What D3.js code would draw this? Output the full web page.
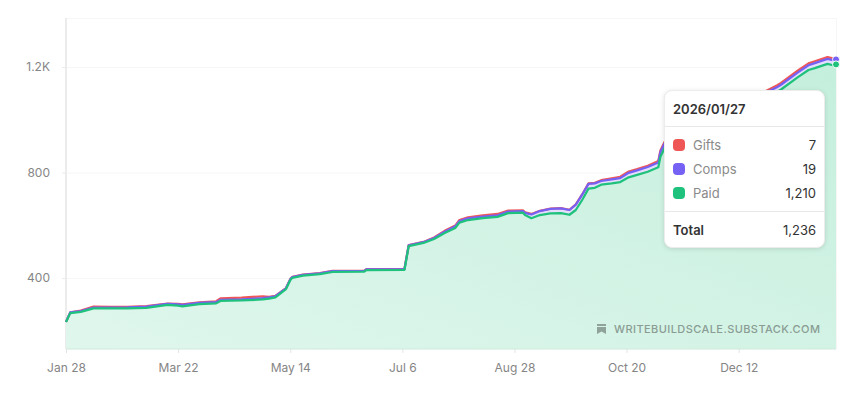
<!DOCTYPE html>
<html>
<head>
<meta charset="utf-8">
<script src="https://cdn.jsdelivr.net/npm/d3@7"></script>
<style>
  html, body { margin: 0; padding: 0; background: #fff; overflow: hidden; }
  #chart { position: relative; width: 854px; height: 394px; font-family: Inter, sans-serif; }
  svg { display: block; }
  .tip { position: absolute; left: 664px; top: 90px; width: 161px; height: 158px; box-sizing: border-box;
         background: #fff; border: 1px solid #ececec; border-radius: 8px; box-shadow: 0 1px 5px rgba(0,0,0,0.12);
         font-size: 13px; color: #333; }
  .tip div { position: absolute; white-space: nowrap; line-height: 16px; }
  .tip .rule { left: 0; right: 0; height: 1px; background: #e8e8e8; }
  .tip .swatch { left: 8px; width: 12px; height: 12px; border-radius: 4px; }
  .tip .label { left: 28px; color: #8a8a8a; }
  .tip .value { right: 8px; text-align: right; }
</style>
</head>
<body>
<div id="chart"></div>
<script>
// Values
const dates = ["2025-01-28","2025-01-30","2025-02-04","2025-02-10","2025-02-18","2025-02-26","2025-03-07","2025-03-17","2025-03-22","2025-03-24",
  "2025-04-01","2025-04-09","2025-04-11","2025-04-21","2025-05-01","2025-05-04","2025-05-07","2025-05-12","2025-05-14","2025-05-15",
  "2025-05-20","2025-05-28","2025-06-03","2025-06-18","2025-06-19","2025-07-07","2025-07-09","2025-07-16","2025-07-21","2025-07-26",
  "2025-07-31","2025-08-02","2025-08-06","2025-08-13","2025-08-20","2025-08-25","2025-09-01","2025-09-02","2025-09-05","2025-09-09",
  "2025-09-14","2025-09-19","2025-09-23","2025-09-26","2025-09-29","2025-10-02","2025-10-05","2025-10-08","2025-10-13","2025-10-17",
  "2025-10-21","2025-10-25","2025-10-30","2025-11-04","2025-11-05","2025-11-07","2025-11-24","2025-12-13","2025-12-30","2026-01-01",
  "2026-01-09","2026-01-14","2026-01-17","2026-01-23","2026-01-26","2026-01-27"];
const paid = [233,267,272,285,285,285,287,298,295,293,
  301,304,313,315,319,322,327,358,392,401,
  409,415,423,424,430,431,521,533,548,571,
  590,610,620,627,632,646,648,639,627,639,
  645,646,640,658,696,739,742,754,759,764,
  782,791,803,820,860,893,945,1037,1105,1115,
  1162,1189,1196,1212,1206,1210];
const comps = [1,3,3,3,3,4,5,4,5,5,
  5,5,4,4,5,5,4,3,3,3,
  3,3,3,3,3,3,3,3,4,5,
  6,6,6,6,6,6,6,8,14,15,
  17,18,18,20,20,18,17,14,15,15,
  17,17,18,18,18,18,18,18,18,18,
  18,18,19,19,19,19];
const gifts = [0,0,2,4,3,2,2,1,2,2,
  2,3,6,7,7,2,1,1,1,1,
  1,1,1,1,1,1,1,1,2,3,
  3,4,4,5,5,4,3,2,2,1,
  1,1,1,1,1,2,2,3,4,5,
  5,5,5,6,6,6,7,7,7,7,
  7,7,7,7,7,7];

const tickDates = ["2025-01-28","2025-03-22","2025-05-14","2025-07-06","2025-08-28","2025-10-20","2025-12-12"];
const tickLabels = ["Jan 28","Mar 22","May 14","Jul 6","Aug 28","Oct 20","Dec 12"];
const yTicks = [400, 800, 1200];
const yDomain = [131, 1386];

const tipDate = "2026/01/27";
const tipNames = ["Gifts", "Comps", "Paid"];
const tipValues = ["7", "19", "1,210"];
const tipTotal = "1,236";

const colors = {Gifts: "#ef5757", Comps: "#7661f5", Paid: "#1fc27c"};

const width = 854;
const height = 394;
const margin = {top: 18, right: 18, bottom: 45, left: 66};

const parse = d3.utcParse("%Y-%m-%d");
const rows = dates.map((d, i) => ({
  date: parse(d),
  paid: paid[i],
  comps: paid[i] + comps[i],
  gifts: paid[i] + comps[i] + gifts[i]
}));

const svg = d3.select("#chart").append("svg")
  .attr("width", width)
  .attr("height", height);

const x = d3.scaleUtc([parse(dates[0]), parse(dates[dates.length - 1])], [margin.left, width - margin.right]);
const y = d3.scaleLinear(yDomain, [height - margin.bottom, margin.top]);

// Green fill gets stronger towards the top right
const gradient = svg.append("defs").append("linearGradient")
  .attr("id", "paidFill")
  .attr("x1", "0%").attr("y1", "100%")
  .attr("x2", "100%").attr("y2", "0%");
gradient.append("stop").attr("offset", "0%").attr("stop-color", "#1fc27c").attr("stop-opacity", 0.14);
gradient.append("stop").attr("offset", "100%").attr("stop-color", "#1fc27c").attr("stop-opacity", 0.26);

// Gridlines
svg.append("g")
  .selectAll("line")
  .data(yTicks.concat(yDomain[1]))
  .join("line")
  .attr("x1", margin.left)
  .attr("x2", width - margin.right)
  .attr("y1", d => y(d) + 0.5)
  .attr("y2", d => y(d) + 0.5)
  .attr("stroke", "#f6f6f6");

svg.append("line")
  .attr("x1", width - margin.right + 0.5)
  .attr("x2", width - margin.right + 0.5)
  .attr("y1", margin.top)
  .attr("y2", height - margin.bottom)
  .attr("stroke", "#f6f6f6");

// Y axis
const yAxis = svg.append("g")
  .attr("transform", `translate(${margin.left},0)`)
  .call(d3.axisLeft(y)
    .tickValues(yTicks)
    .tickFormat(d => d >= 1000 ? (d / 1000) + "K" : d)
    .tickSize(4)
    .tickPadding(12));
yAxis.select(".domain").attr("stroke", "#ececec").attr("stroke-width", 2).attr("d", `M0,${margin.top}V${height - margin.bottom}`);
yAxis.selectAll(".tick line").attr("stroke", "#ececec");
yAxis.selectAll("text").attr("fill", "#858585").attr("font-family", "Inter, sans-serif").attr("font-size", 12);

// X axis
const xAxis = svg.append("g")
  .attr("transform", `translate(0,${height - margin.bottom})`)
  .call(d3.axisBottom(x)
    .tickValues(tickDates.map(parse))
    .tickFormat((d, i) => tickLabels[i])
    .tickSize(4)
    .tickPadding(10));
xAxis.select(".domain").remove();
xAxis.selectAll(".tick line").attr("stroke", "#e4e4e4");
xAxis.selectAll("text").attr("fill", "#858585").attr("font-family", "Inter, sans-serif").attr("font-size", 12);

const base = y.range()[0];
const area = key => d3.area().x(d => x(d.date)).y0(base).y1(d => y(d[key]));
const line = key => d3.line().x(d => x(d.date)).y(d => y(d[key]));

// Stacked series, top one first
const series = [
  {key: "gifts", color: colors.Gifts, fill: "#fde7e7"},
  {key: "comps", color: colors.Comps, fill: "#e4defd"},
  {key: "paid", color: colors.Paid, fill: "url(#paidFill)"}
];

series.forEach(s => {
  if (s.key === "paid") {
    svg.append("path").datum(rows).attr("d", area(s.key)).attr("fill", "#fff");
  }
  svg.append("path").datum(rows).attr("d", area(s.key)).attr("fill", s.fill);
});
series.forEach(s => {
  svg.append("path").datum(rows)
    .attr("d", line(s.key))
    .attr("fill", "none")
    .attr("stroke", s.color)
    .attr("stroke-width", 2.25)
    .attr("stroke-linejoin", "round");
});

// Bottom edge of the area
svg.append("line")
  .attr("x1", margin.left).attr("x2", width - margin.right)
  .attr("y1", base).attr("y2", base)
  .attr("stroke", "#cfeadc");

// End dots, the gifts dot sits hidden behind comps
const last = rows[rows.length - 1];
svg.append("g")
  .selectAll("circle")
  .data(series.filter(s => s.key !== "gifts"))
  .join("circle")
  .attr("cx", x(last.date))
  .attr("cy", d => y(last[d.key]))
  .attr("r", 3.5)
  .attr("fill", d => d.color)
  .attr("stroke", "#fff");

// Watermark
svg.append("path")
  .attr("d", "M597,324h9v2h-9zM597,327h9v7l-4.5,-2.5l-4.5,2.5z")
  .attr("fill", "#8fa39a");
svg.append("text")
  .attr("x", 614)
  .attr("y", 333)
  .attr("fill", "#8a9c94")
  .attr("font-size", 11)
  .attr("font-weight", 500)
  .attr("letter-spacing", 0.42)
  .text("WRITEBUILDSCALE.SUBSTACK.COM");

// Tooltip
const tip = d3.select("#chart").append("div").attr("class", "tip");
tip.append("div").style("left", "8px").style("top", "10px")
  .style("font-weight", 600).text(tipDate);
tip.append("div").attr("class", "rule").style("top", "35px");
tipNames.forEach((name, i) => {
  const top = 46 + i * 24;
  tip.append("div").attr("class", "swatch").style("top", (top + 2) + "px").style("background", colors[name]);
  tip.append("div").attr("class", "label").style("top", top + "px").text(name);
  tip.append("div").attr("class", "value").style("top", top + "px").text(tipValues[i]);
});
tip.append("div").attr("class", "rule").style("top", "120px");
tip.append("div").style("left", "8px").style("top", "131px").style("font-weight", 600).text("Total");
tip.append("div").attr("class", "value").style("top", "131px").text(tipTotal);
</script>
</body>
</html>
